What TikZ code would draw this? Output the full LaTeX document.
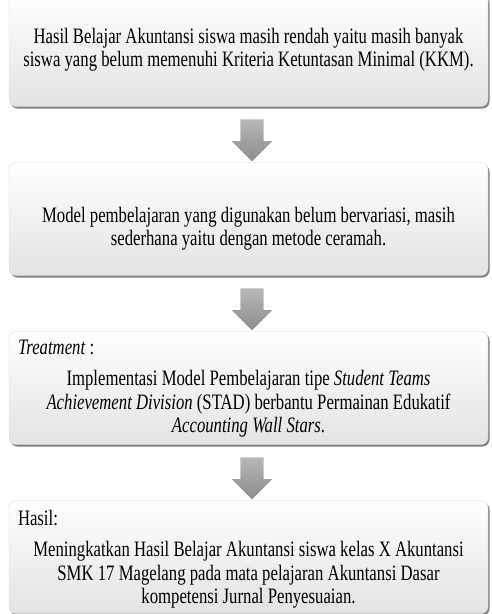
\documentclass[tikz,border=0pt]{standalone}
\usepackage{fontspec}
\setmainfont{Liberation Serif}[FakeStretch=0.76]
\usetikzlibrary{shapes.arrows,shadows,calc}

\begin{document}
\begin{tikzpicture}[x=1pt, y=-1pt, node distance=169pt,
  box/.style={draw=black!15, rounded corners=7pt, top color=white, bottom color=black!11,
    minimum width=479pt, minimum height=113pt,
    drop shadow={shadow xshift=1.5pt, shadow yshift=-2pt, fill=black!50, opacity=1}},
  txt/.style={align=center, inner sep=0pt, font=\fontsize{22}{23.5}\selectfont},
  label txt/.style={anchor=west, inner sep=0pt, font=\fontsize{22}{23.5}\selectfont},
  down arrow/.style={single arrow, shape border rotate=270, draw=none, inner sep=11.5pt,
    minimum height=42pt, minimum width=40pt, single arrow head extend=8.5pt,
    single arrow head indent=0pt, top color=black!28, bottom color=black!45}]
\useasboundingbox (0,0) rectangle (491,614);

% boxes
\node[box] (b1) at (248.5,50) {};
\node[box, below of=b1] (b2) {};
\node[box, below of=b2] (b3) {};
\node[box, below of=b3] (b4) {};

% texts
\node[txt, yshift=0.5pt] (t1) at (b1) {Hasil Belajar Akuntansi siswa masih rendah yaitu masih banyak\\
  siswa yang belum memenuhi Kriteria  Ketuntasan Minimal (KKM).};
\node[txt, yshift=-9.5pt] (t2) at (b2) {Model pembelajaran yang digunakan belum bervariasi,  masih\\
  sederhana yaitu dengan metode ceramah.};
\node[label txt] (l3) at ($(b3.north west)+(9,16)$) {\textit{Treatment} :};
\node[txt, yshift=-16pt] (t3) at (b3) {Implementasi Model Pembelajaran tipe \textit{Student Teams}\\
  \textit{Achievement Division} (STAD) berbantu Permainan Edukatif\\
  \textit{Accounting Wall Stars}.};
\node[label txt] (l4) at ($(b4.north west)+(9,18)$) {Hasil:};
\node[txt, yshift=-18pt] (t4) at (b4) {Meningkatkan Hasil Belajar Akuntansi siswa kelas X Akuntansi\\
  SMK 17 Magelang pada mata pelajaran Akuntansi Dasar\\
  kompetensi Jurnal Penyesuaian.};

% arrows
\node[down arrow, xshift=3.5pt] (a1) at ($(b1.south)!0.5!(b2.north)$) {};
\node[down arrow, xshift=3.5pt] (a2) at ($(b2.south)!0.5!(b3.north)$) {};
\node[down arrow, xshift=3.5pt] (a3) at ($(b3.south)!0.5!(b4.north)$) {};
\end{tikzpicture}
\end{document}
